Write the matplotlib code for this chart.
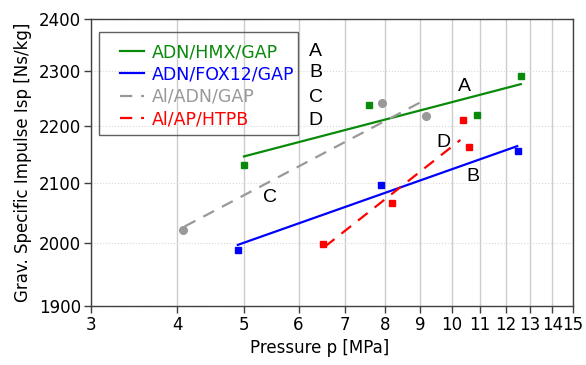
import matplotlib
matplotlib.use("Agg")
import matplotlib.pyplot as plt
from matplotlib.patches import Rectangle
from matplotlib.ticker import FixedLocator, NullLocator, FuncFormatter

# measured points (pressure MPa, Isp Ns/kg)
hmx_p = [5.0, 7.6, 10.9, 12.6]
hmx_isp = [2131, 2238, 2219, 2291]
fox_p = [4.9, 7.9, 12.5]
fox_isp = [1989, 2096, 2156]
al_adn_p = [4.08, 7.93, 9.19]
al_adn_isp = [2021, 2242, 2217]
htpb_p = [6.5, 8.2, 10.4, 10.6]
htpb_isp = [1998, 2066, 2210, 2162]

# fitted trend lines (end points)
hmx_fit_p = [5.0, 12.6]
hmx_fit_isp = [2146, 2276]
fox_fit_p = [4.9, 12.45]
fox_fit_isp = [1997, 2164]
al_adn_fit_p = [4.1, 9.15]
al_adn_fit_isp = [2027, 2247]
htpb_fit_p = [6.55, 10.3]
htpb_fit_isp = [1994, 2175]

names = ['ADN/HMX/GAP', 'ADN/FOX12/GAP', 'Al/ADN/GAP', 'Al/AP/HTPB']
letters = ['A', 'B', 'C', 'D']
# letter placed next to each trend line
letter_p = [10.43, 10.75, 5.46, 9.73]
letter_isp = [2271, 2112, 2076, 2170]

x_ticks = list(range(3, 16))
y_ticks = [1900, 2000, 2100, 2200, 2300, 2400]

green = '#0a8a0a'
blue = '#0000ff'
gray = '#999999'
red = '#ff0000'

fig = plt.figure(figsize=(5.86, 3.65), dpi=100)
ax = fig.add_axes([0.1553, 0.1616, 0.8225, 0.7864])
ax.set_xscale('log')
ax.set_yscale('log')
ax.set_xlim(3, 15)
ax.set_ylim(1900, 2400)

ax.xaxis.set_major_locator(FixedLocator(x_ticks))
ax.xaxis.set_minor_locator(NullLocator())
ax.xaxis.set_major_formatter(FuncFormatter(lambda v, pos: '%d' % round(v)))
ax.yaxis.set_major_locator(FixedLocator(y_ticks))
ax.yaxis.set_minor_locator(NullLocator())
ax.yaxis.set_major_formatter(FuncFormatter(lambda v, pos: '%d' % round(v)))

ax.xaxis.grid(True, color='#cccccc', linewidth=1.0)
ax.yaxis.grid(True, color='#d8d8d8', linestyle=':', linewidth=0.8)
ax.set_axisbelow(True)

for s in ax.spines.values():
    s.set_color('#404040')
    s.set_linewidth(1.0)
ax.tick_params(axis='both', direction='out', length=5, width=1.0, color='#404040',
               labelsize=12, pad=2)

lw = 1.6
ax.plot(hmx_fit_p, hmx_fit_isp, color=green, lw=lw, label=names[0])
ax.plot(fox_fit_p, fox_fit_isp, color=blue, lw=lw, label=names[1])
ax.plot(al_adn_fit_p, al_adn_fit_isp, color=gray, lw=lw, dashes=(5.5, 4), label=names[2])
ax.plot(htpb_fit_p, htpb_fit_isp, color=red, lw=lw, dashes=(5.5, 4), label=names[3])

ax.plot(hmx_p, hmx_isp, 's', color=green, ms=5, ls='none')
ax.plot(fox_p, fox_isp, 's', color=blue, ms=5, ls='none')
ax.plot(al_adn_p, al_adn_isp, 'o', color=gray, ms=5.5, ls='none')
ax.plot(htpb_p, htpb_isp, 's', color=red, ms=5, ls='none')

for i in range(len(letters)):
    ax.text(letter_p[i], letter_isp[i], letters[i], ha='center', va='center',
            fontsize=14, family='Liberation Sans')

leg = ax.legend(loc='upper left', bbox_to_anchor=(0.060, 0.916), frameon=False,
                borderaxespad=0, borderpad=0, handlelength=1.4, handletextpad=0.42,
                labelspacing=0.25, fontsize=12.5)
for t, c in zip(leg.get_texts(), [green, blue, gray, red]):
    t.set_color(c)
ax.add_patch(Rectangle((0.0166, 0.596), 0.4129, 0.359, transform=ax.transAxes,
                       fill=False, edgecolor='#606060', lw=1.0, zorder=5))

legend_letter_y = [0.885, 0.812, 0.728, 0.648]
for i in range(len(letters)):
    ax.text(0.466, legend_letter_y[i], letters[i], transform=ax.transAxes,
            ha='center', va='center', fontsize=14, family='Liberation Sans')

ax.set_xlabel('Pressure p [MPa]', fontsize=12, x=0.475, labelpad=4)
ax.set_ylabel('Grav. Specific Impulse Isp [Ns/kg]', fontsize=12, labelpad=5)

fig.savefig('out.png', dpi=100)
